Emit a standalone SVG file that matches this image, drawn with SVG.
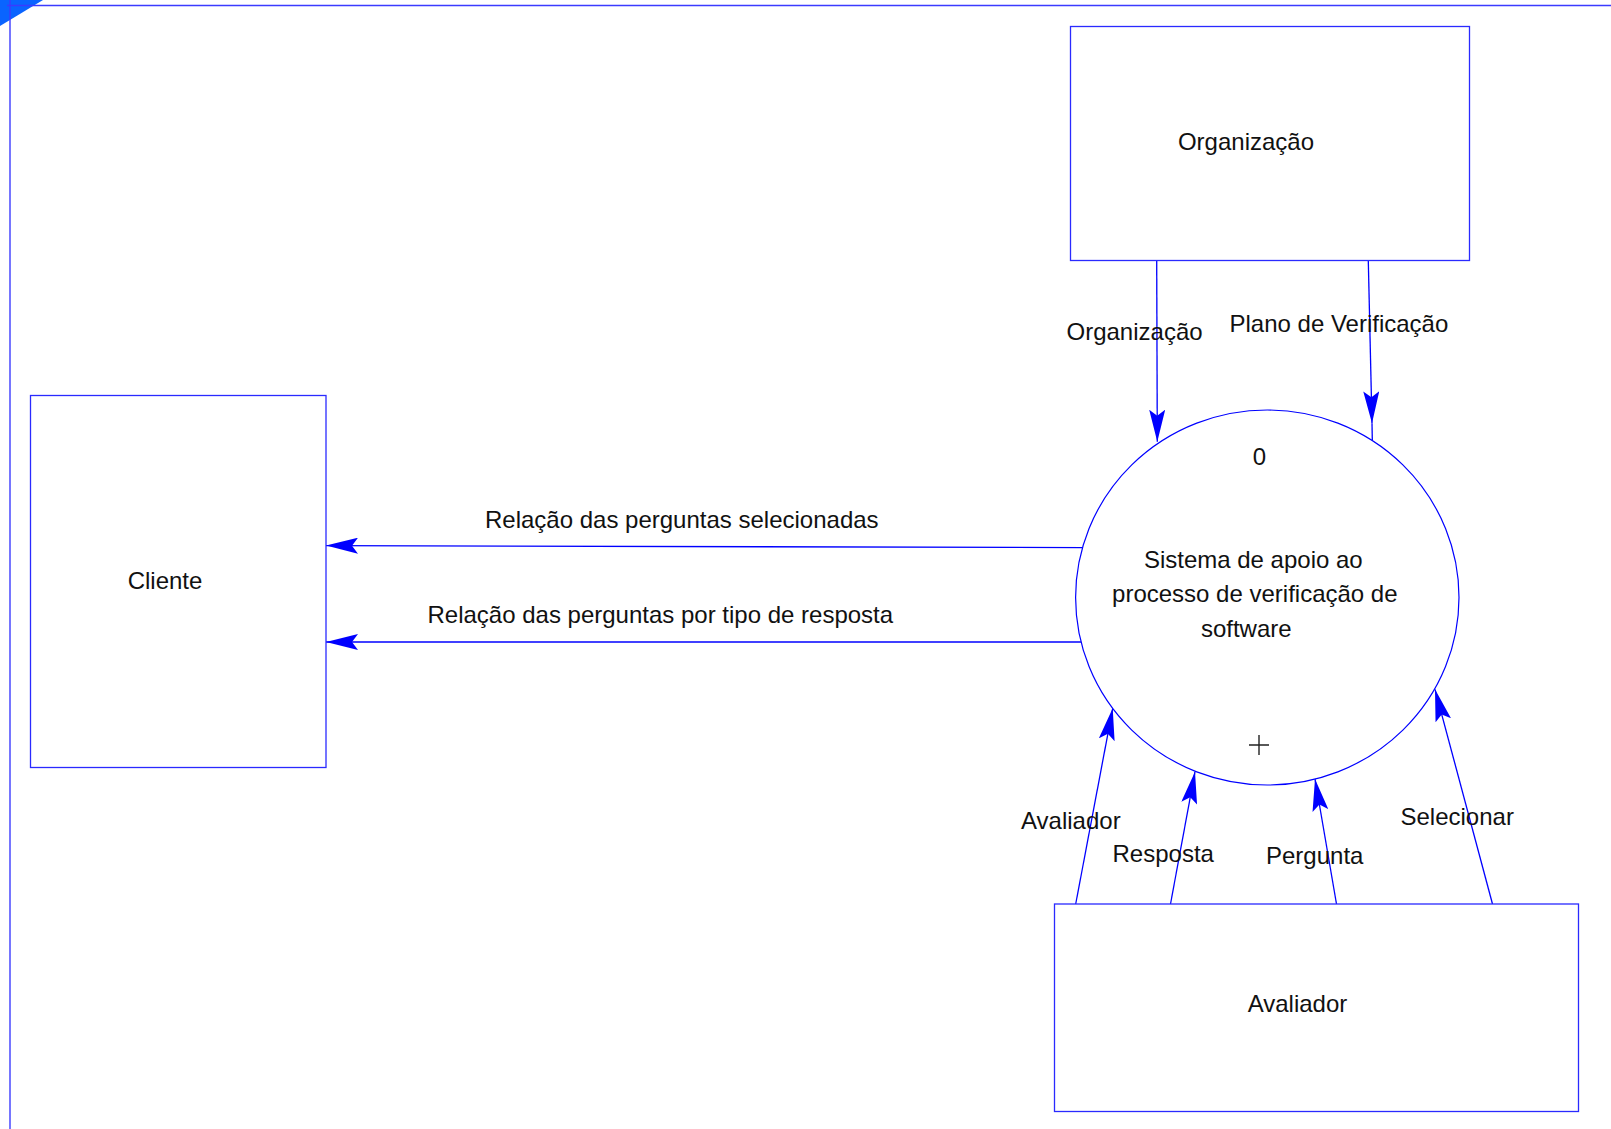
<svg xmlns="http://www.w3.org/2000/svg" width="1611" height="1129" viewBox="0 0 1611 1129">
<style>
.box{fill:#fff;stroke:#2a2aff;stroke-width:1.3}
.proc{fill:#fff;stroke:#0000ff;stroke-width:1.2}
.flow{fill:none;stroke:#0000ff;stroke-width:1.3}
.lbl{font-family:"Liberation Sans",Arial,sans-serif;font-size:24px;fill:#111}
.frame{stroke:#3b3bff;stroke-width:1.4;fill:none}
</style>
<defs>
<marker id="arr" markerUnits="userSpaceOnUse" viewBox="0 0 32 16" refX="32" refY="8" markerWidth="32" markerHeight="16" orient="auto">
<path d="M0,0 L32,8 L0,16 L6,8 Z" fill="#0000ff"/>
</marker>
</defs>
<rect width="1611" height="1129" fill="#fff"/>
<g id="frame">
<polygon points="0,0 43,0 0,26" fill="#0a64ff"/>
<line class="frame" x1="7" y1="5.5" x2="1611" y2="5.5"/>
<line class="frame" x1="10" y1="0" x2="10" y2="1129"/>
</g>
<g id="connectors">
<path class="flow" d="M1156.7,261 L1157.3,441.7" marker-end="url(#arr)"/>
<path class="flow" d="M1368.3,261 L1372,423.3" marker-end="url(#arr)"/>
<path class="flow" d="M1372,423.3 L1372.3,440"/>
<path class="flow" d="M1083,547.6 L326,545.6" marker-end="url(#arr)"/>
<path class="flow" d="M1081.5,642 L326,642" marker-end="url(#arr)"/>
<path class="flow" d="M1075.7,904 L1112.7,708.3" marker-end="url(#arr)"/>
<path class="flow" d="M1170.5,904 L1195,771.7" marker-end="url(#arr)"/>
<path class="flow" d="M1336.5,904 L1315,779" marker-end="url(#arr)"/>
<path class="flow" d="M1492.5,904 L1435,689.3" marker-end="url(#arr)"/>
<text class="lbl" x="1066.5" y="340">Organização</text>
<text class="lbl" x="1229.5" y="332">Plano de Verificação</text>
<text class="lbl" x="485" y="528">Relação das perguntas selecionadas</text>
<text class="lbl" x="427.5" y="623">Relação das perguntas por tipo de resposta</text>
<text class="lbl" x="1021" y="829">Avaliador</text>
<text class="lbl" x="1112.5" y="862">Resposta</text>
<text class="lbl" x="1266" y="864">Pergunta</text>
<text class="lbl" x="1400.5" y="825">Selecionar</text>
</g>
<g id="node-organizacao">
<rect class="box" x="1070.5" y="26.5" width="399" height="234"/>
<text class="lbl" x="1246" y="150" text-anchor="middle">Organização</text>
</g>
<g id="node-cliente">
<rect class="box" x="30.5" y="395.5" width="295.5" height="372"/>
<text class="lbl" x="165" y="589" text-anchor="middle">Cliente</text>
</g>
<g id="node-avaliador">
<rect class="box" x="1054.5" y="904" width="524" height="207.5"/>
<text class="lbl" x="1297.5" y="1012" text-anchor="middle">Avaliador</text>
</g>
<g id="node-processo">
<ellipse class="proc" cx="1267.3" cy="597.5" rx="191.7" ry="187.5"/>
<text class="lbl" x="1259.5" y="465" text-anchor="middle">0</text>
<text class="lbl" x="1253.3" y="568" text-anchor="middle">Sistema de apoio ao</text>
<text class="lbl" x="1254.8" y="602" text-anchor="middle">processo de verificação de</text>
<text class="lbl" x="1246.3" y="637" text-anchor="middle">software</text>
<path d="M1249,745 L1269,745 M1259,735 L1259,755" stroke="#222" stroke-width="1.4" fill="none"/>
</g>
</svg>
